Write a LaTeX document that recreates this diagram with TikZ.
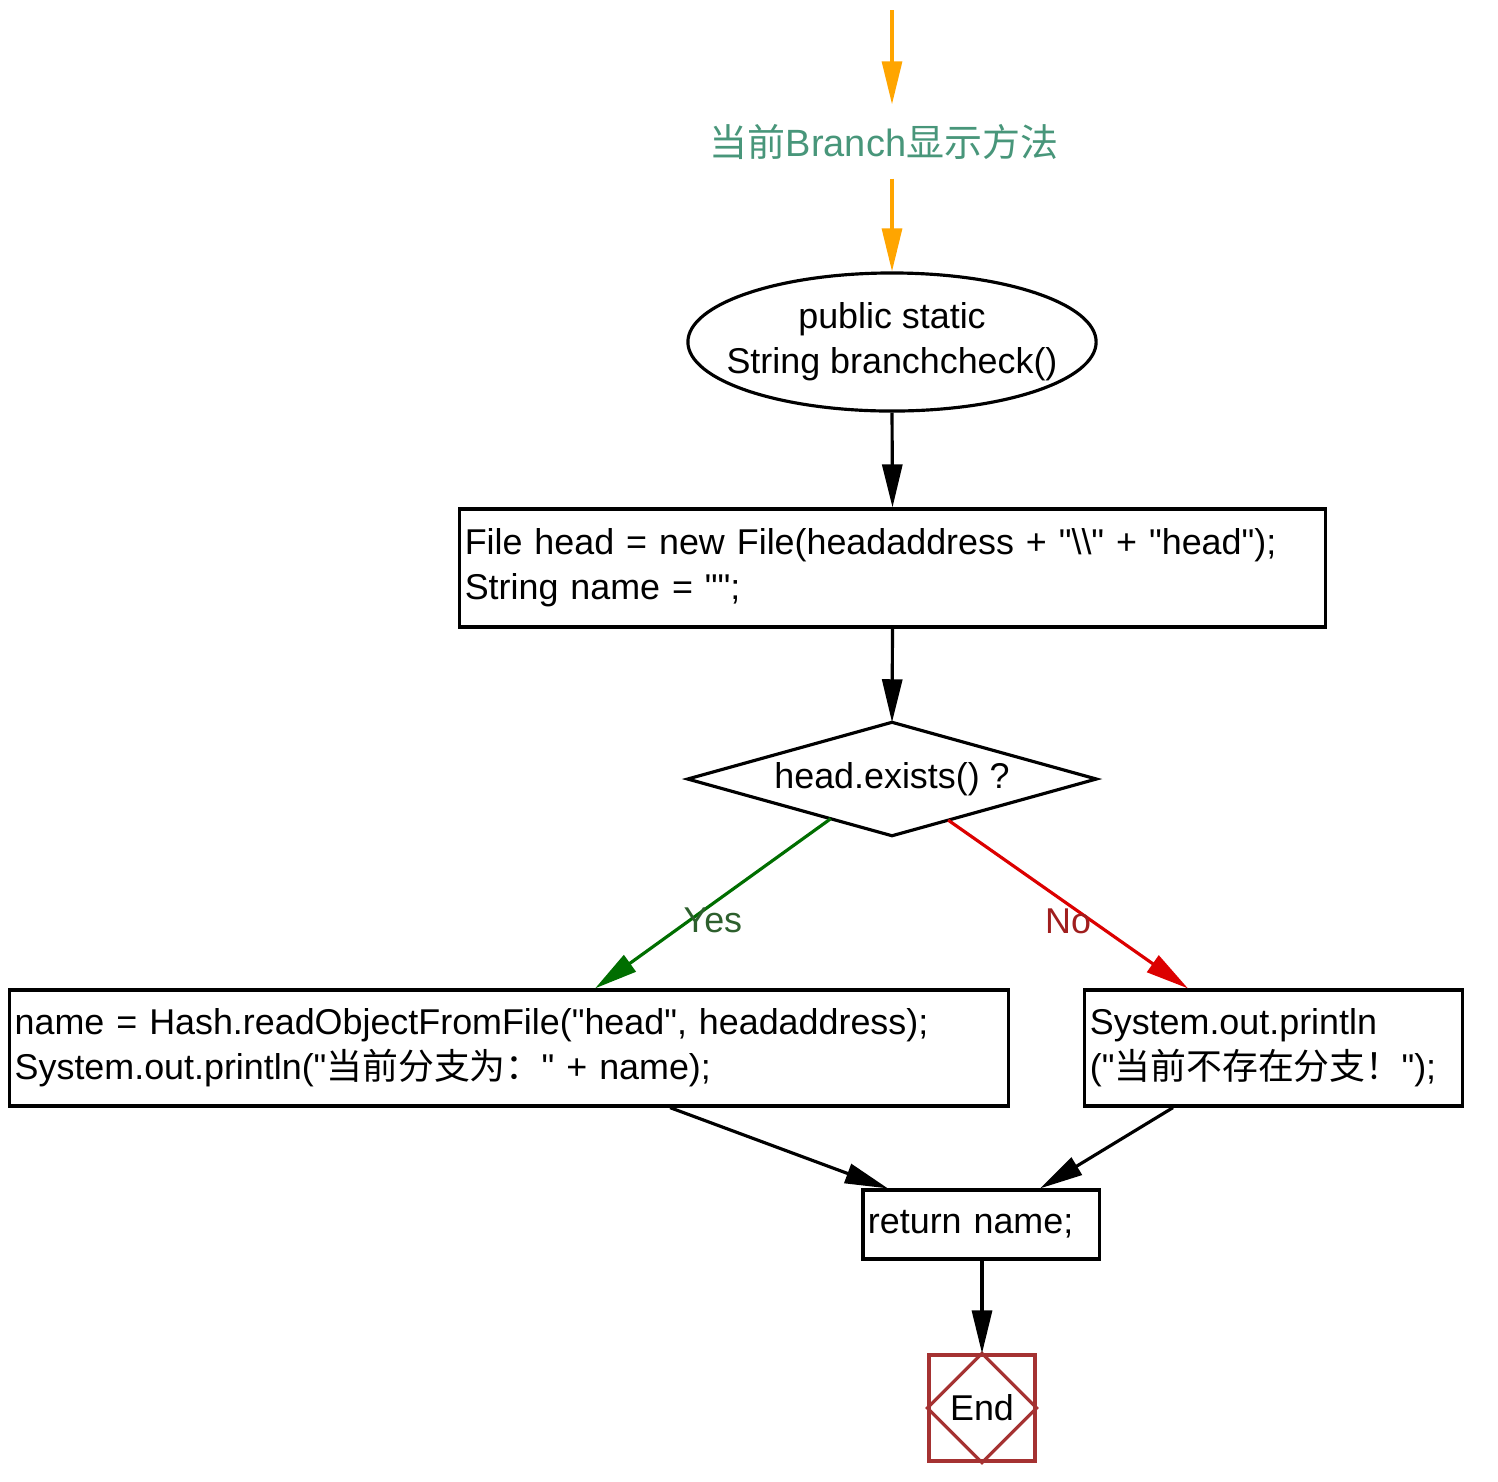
\documentclass[tikz,border=0pt]{standalone}
\usepackage{fontspec}
\newfontfamily\codefont{Liberation Sans}
\newfontfamily\cjk{Noto Sans CJK SC}
\usetikzlibrary{shapes.geometric,arrows.meta,calc}
\newcommand\zh[1]{{\cjk #1}}
\definecolor{entryorange}{RGB}{255,165,0}
\definecolor{titleteal}{RGB}{72,150,122}
\definecolor{yesline}{RGB}{0,110,0}
\definecolor{yestext}{RGB}{45,95,45}
\definecolor{noline}{RGB}{220,0,0}
\definecolor{notext}{RGB}{160,30,30}
\definecolor{endred}{RGB}{165,50,50}
\begin{document}
\begin{tikzpicture}[x=0.01cm,y=-0.01cm,
  every node/.style={font=\codefont\fontsize{10.2}{12.8}\selectfont},
  flow/.style={line width=0.9pt,-{Triangle[length=4.3mm,width=2mm]}},
  box/.style={draw,line width=0.9pt,rectangle,inner xsep=0.05cm,inner ysep=0,align=left},
  lbl/.style={inner sep=0}]
\useasboundingbox (0,0) rectangle (1498,1481);

% entry point and method title
\coordinate (start) at (892,10);
\node[text=titleteal,inner sep=0,minimum height=0.73cm,
  font=\codefont\fontsize{10.8}{13}\selectfont] (title) at (884,141.5)
  {\zh{当前}Branch\zh{显示方法}};

% method header
\node[draw,ellipse,line width=0.9pt,minimum width=4.08cm,minimum height=1.38cm,
  inner sep=0] (method) at (892,342) {};
\node[align=center,inner sep=0] (methodtext) at (method.center)
  {public static\\String branchcheck()};

% body
\node[box,text width=8.55cm,minimum height=1.18cm] (init) at (892.5,568)
  {File head = new File(headaddress + "\textbackslash\textbackslash" + "head");\\String name = "";};

\node[rectangle,minimum width=4.07cm,minimum height=1.12cm,inner sep=0] (test) at (892,779) {head.exists() ?};
\draw[line width=0.9pt] (test.north) -- (test.east) -- (test.south) -- (test.west) -- cycle;

\node[box,text width=9.88cm,minimum height=1.16cm] (yesbox) at (509,1048)
  {name = Hash.readObjectFromFile("head", headaddress);\\System.out.println("\zh{当前分支为：}" + name);};

\node[box,text width=3.67cm,minimum height=1.16cm] (nobox) at (1273.5,1048)
  {System.out.println\\("\zh{当前不存在分支！}");};

\node[box,text width=2.26cm,minimum height=0.69cm] (ret) at (981,1224.5)
  {return name;};

% terminal
\node[draw=endred,line width=0.9pt,rectangle,minimum size=1.06cm,inner sep=0] (end) at (982,1408) {End};
\draw[endred,line width=0.9pt] (end.north) -- (end.east) -- (end.south) -- (end.west) -- cycle;

% connectors
\draw[flow,entryorange] (start) -- (start |- title.north);
\draw[flow,entryorange] (title.south -| method.north) -- (method.north);
\draw[flow] (method.south) -- (init.north);
\draw[flow] (init.south) -- (test.north);

\draw[flow,yesline] ($(test.west)!0.7!(test.south)$) -- ([xshift=0.86cm]yesbox.north)
  node[lbl,text=yestext,pos=0.5,yshift=-0.17cm] {Yes};
\draw[flow,noline] ($(test.east)!0.725!(test.south)$) -- ([xshift=-0.855cm]nobox.north)
  node[lbl,text=notext,pos=0.5,yshift=-0.17cm] {No};

\draw[flow] ([xshift=1.61cm]yesbox.south) -- ([xshift=-0.93cm]ret.north);
\draw[flow] ([xshift=-1.005cm]nobox.south) -- ([xshift=0.59cm]ret.north);
\draw[flow] (ret.south -| end.north) -- (end.north);
\end{tikzpicture}
\end{document}
